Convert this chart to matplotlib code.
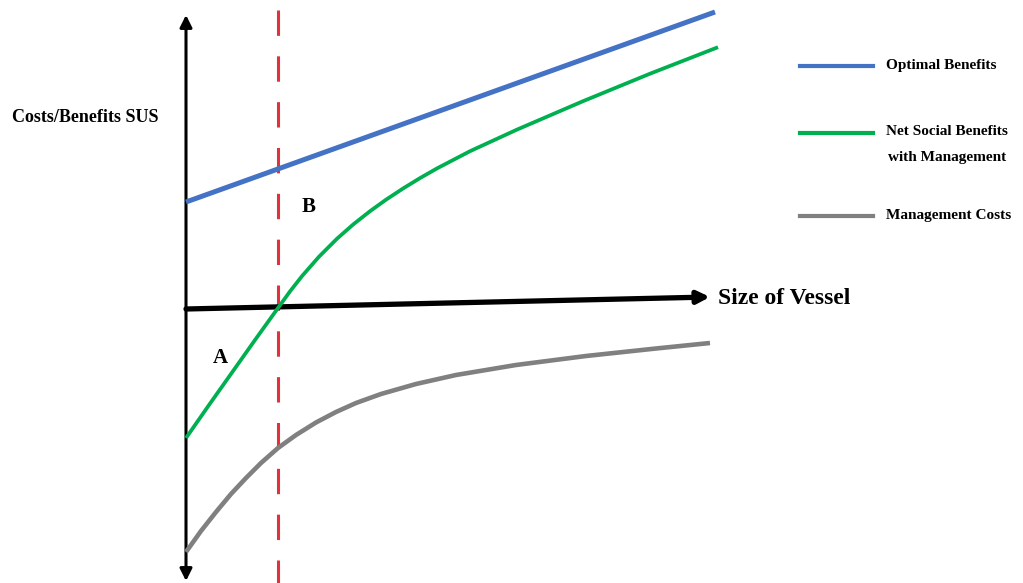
import matplotlib.pyplot as plt
from matplotlib.lines import Line2D

# ── Curve data (size of vessel vs. costs/benefits, arbitrary units) ───────────
optimal_x = [0.0, 52.9]
optimal_y = [10.6, 29.6]

net_x = [0.0, 2.3, 4.6, 6.9, 9.2, 10.4, 11.6, 13.3, 15.1, 16.7, 18.4, 20.0,
         21.7, 23.4, 25.1, 28.4, 33.1, 39.7, 46.4, 53.2]
net_y = [-13.0, -9.7, -6.45, -3.2, 0.0, 1.66, 3.19, 5.13, 6.93, 8.34, 9.68,
         10.83, 11.95, 12.99, 13.96, 15.68, 17.84, 20.68, 23.43, 26.08]

cost_x = [0.0, 1.5, 3.0, 4.5, 6.0, 7.5, 9.2, 11.0, 13.0, 15.0, 17.0, 19.5,
          23.0, 27.0, 33.0, 40.0, 47.0, 52.4]
cost_y = [-24.4, -22.3, -20.4, -18.6, -17.0, -15.5, -14.0, -12.7, -11.45,
          -10.4, -9.5, -8.6, -7.6, -6.7, -5.7, -4.8, -4.05, -3.5]

breakeven_x = 9.2

labels = ["Optimal Benefits",
          "Net Social Benefits\nwith Management",
          "Management Costs"]
colors = ["#4472C4", "#00B050", "#808080"]

FONT = "Liberation Serif"
W, H = 1023, 583

fig = plt.figure(figsize=(W / 100, H / 100), dpi=100)
ax = fig.add_axes([0, 0, 1, 1])
ax.set_xlim(-18.6, 83.7)
ax.set_ylim(-27.5, 30.8)
ax.axis("off")

# break-even vessel size
ax.plot([breakeven_x, breakeven_x], [29.8, -27.6], color="#E2303C",
        lw=2.2, dashes=(8.3, 6.7), zorder=1)

ax.plot(optimal_x, optimal_y, color=colors[0], lw=3.6,
        solid_capstyle="butt", zorder=3)
ax.plot(net_x, net_y, color=colors[1], lw=2.7,
        solid_capstyle="butt", solid_joinstyle="round", zorder=3)
ax.plot(cost_x, cost_y, color=colors[2], lw=3.3,
        solid_capstyle="butt", solid_joinstyle="round", zorder=3)

# axes drawn as arrows
ax.annotate("", xy=(0, 29.3), xytext=(0, -27.3),
            arrowprops=dict(arrowstyle="<|-|>", color="black", lw=2.2,
                            mutation_scale=18, shrinkA=0, shrinkB=0), zorder=2)
ax.annotate("", xy=(52.4, 1.1), xytext=(0, -0.1),
            arrowprops=dict(arrowstyle="-|>", color="black", lw=3.8,
                            mutation_scale=18, shrinkA=0, shrinkB=0), zorder=2)

ax.text(-10.1, 19.0, "Costs/Benefits SUS", family=FONT, weight="bold",
        fontsize=13, ha="center", va="center")
ax.text(53.2, 1.0, "Size of Vessel", family=FONT, weight="bold",
        fontsize=17, ha="left", va="center")
ax.text(3.4, -5.0, "A", family=FONT, weight="bold", fontsize=15,
        ha="center", va="center")
ax.text(12.3, 10.1, "B", family=FONT, weight="bold", fontsize=15,
        ha="center", va="center")

# legend, laid out by hand so the two-line entry keeps its handle on line one
key_rows = [66, 133, 216]
key_text = [66, 144.5, 216]
for lab, col, yl, yt in zip(labels, colors, key_rows, key_text):
    fig.add_artist(Line2D([800 / W, 873 / W], [1 - yl / H, 1 - yl / H],
                          color=col, lw=3.0, transform=fig.transFigure))
    fig.text(886 / W, 1 - yt / H, lab, family=FONT, weight="bold",
             fontsize=11, ha="left", va="center", multialignment="center",
             linespacing=2.3)

fig.savefig("out.png", dpi=100)
